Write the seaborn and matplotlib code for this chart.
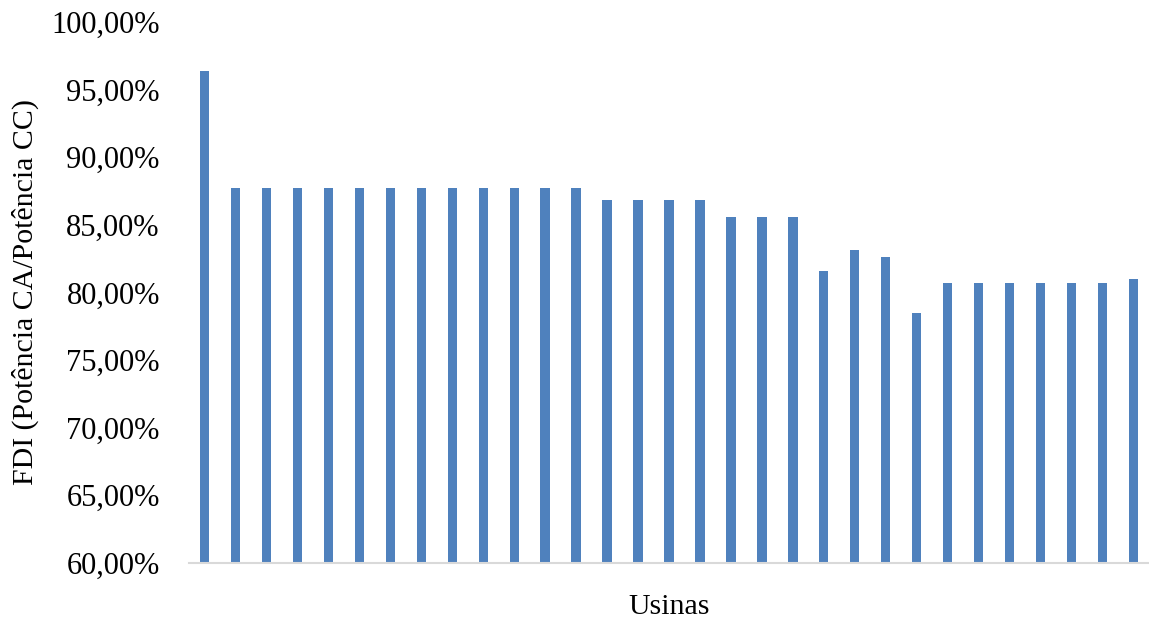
import matplotlib
matplotlib.use("Agg")
import matplotlib.pyplot as plt
import seaborn as sns
import pandas as pd
from matplotlib.ticker import FuncFormatter, MultipleLocator

# FDI per plant (AC power / DC power), in percent
usinas = [f"U{i}" for i in range(1, 32)]
fdi = [96.4] + [87.7] * 12 + [86.8] * 4 + [85.6] * 3 + [81.6, 83.1, 82.6, 78.5] + [80.7] * 6 + [81.0]

df = pd.DataFrame({"Usina": usinas, "FDI": fdi})

sns.set_theme(style="white")
plt.rcParams["font.family"] = ["Liberation Serif", "DejaVu Serif"]

fig = plt.figure(figsize=(11.49, 6.23), dpi=100)
ax = fig.add_axes([0.1645, 0.0968, 0.8355, 0.8679])

sns.barplot(data=df, x="Usina", y="FDI", color="#4f81bd", width=0.3,
            saturation=1, ax=ax, edgecolor="none")

ax.set_ylim(60, 100)
ax.set_xlim(-0.5, len(usinas) - 0.5)
ax.yaxis.set_major_locator(MultipleLocator(5))
ax.yaxis.set_major_formatter(FuncFormatter(lambda v, _: f"{v:.2f}".replace(".", ",") + "%"))
ax.tick_params(axis="y", labelsize=22, length=0, pad=21, colors="black")
ax.tick_params(axis="x", length=0)
ax.set_xticklabels([])

for side in ("top", "right", "left"):
    ax.spines[side].set_visible(False)
ax.spines["bottom"].set_color("#d9d9d9")
ax.spines["bottom"].set_linewidth(1.5)

ax.set_xlabel("Usinas", fontsize=21.5, color="black", labelpad=19)
ax.set_ylabel("FDI (Potência CA/Potência CC)", fontsize=21.5, color="black", labelpad=9)

fig.savefig("out.png", dpi=100, facecolor="white")
